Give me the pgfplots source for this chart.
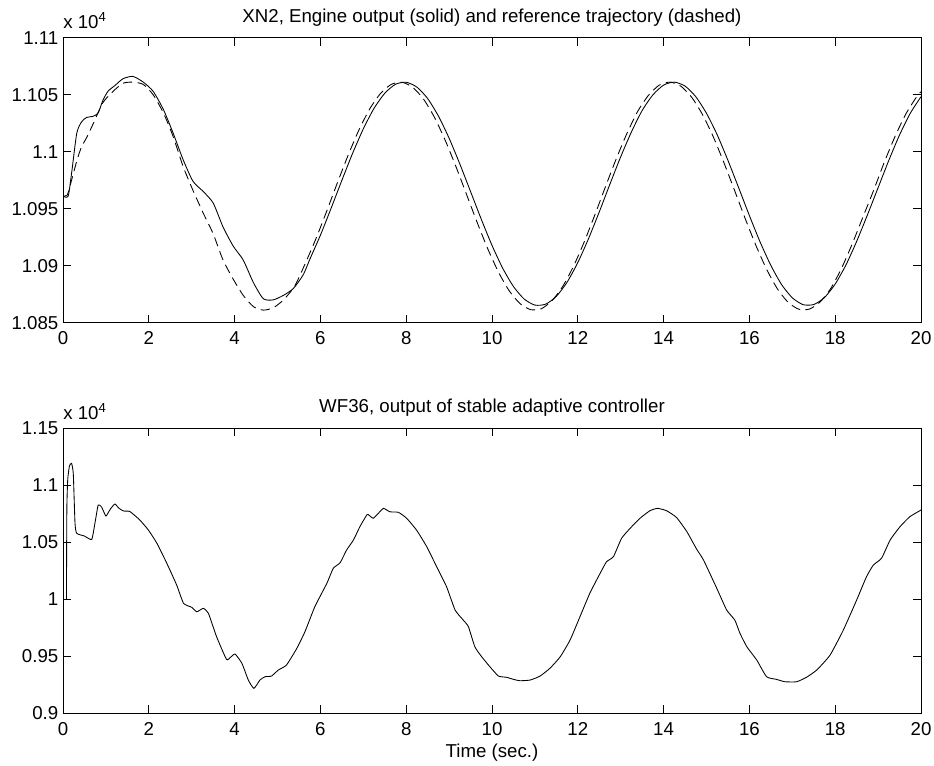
\documentclass[border=0pt]{standalone}
\usepackage{fontspec}
\setmainfont{Liberation Sans}
\usepackage{pgfplots}
\pgfplotsset{compat=1.18}
\pgfplotsset{
  mstyle/.style={
    scale only axis, width=643.5pt, height=213.75pt,
    anchor=south west,
    xmin=0, xmax=20, xtick={0,2,4,6,8,10,12,14,16,18,20},
    tick align=inside, xtick pos=both, ytick pos=both,
    major tick length=6pt,
    /pgf/number format/assume math mode=true,
    axis line style={line width=0.6pt},
    every tick/.style={line width=0.6pt, black},
    xticklabel style={yshift=-3.2pt},
    title style={at={(0.5,1)}, anchor=base, yshift=5.6pt},
    clip mode=individual,
  },
  sline/.style={black, line width=0.65pt, no markers},
}
\begin{document}
\begin{tikzpicture}[font=\fontsize{14pt}{16pt}\selectfont]
% ---------------- top axis ----------------
\begin{axis}[mstyle, at={(47.25pt,332.5pt)},
  ymin=1.085, ymax=1.11,
  ytick={1.085,1.09,1.095,1.1,1.105,1.11},
  yticklabels={1.085,1.09,1.095,1.1,1.105,1.11},
  title={XN2, Engine output (solid) and reference trajectory (dashed)}]
\addplot[sline, smooth, tension=0.4] coordinates {
(0,1.0961) (0.12,1.0961) (0.2,1.0981) (0.32,1.1016) (0.43,1.1026) (0.55,1.1030)
(0.7,1.1031) (0.82,1.1034) (0.93,1.1045) (1.05,1.1053) (1.21,1.1058) (1.4,1.1064)
(1.63,1.1066) (1.87,1.1061) (2.1,1.1053) (2.34,1.1037) (2.57,1.1016) (2.8,1.0993)
(3.03,1.0974) (3.27,1.0965) (3.5,1.0955) (3.73,1.0934) (3.97,1.0917) (4.2,1.0905)
(4.44,1.0885) (4.67,1.0871) (4.9,1.0870) (5.14,1.0874) (5.37,1.0880) (5.6,1.0892)
(5.75,1.09053) (6.0,1.09267) (6.25,1.09504) (6.5,1.09748) (6.75,1.09985)
(7.0,1.10200) (7.25,1.10380) (7.5,1.10512) (7.75,1.10591) (8.0,1.10609)
(8.25,1.10566) (8.5,1.10466) (8.75,1.10313) (9.0,1.10118) (9.25,1.09892)
(9.5,1.09650) (9.75,1.09407) (10.0,1.09178) (10.25,1.08977) (10.5,1.08817)
(10.75,1.08707) (11.0,1.08654) (11.25,1.08662) (11.5,1.08731) (11.75,1.08855)
(12.0,1.09027) (12.25,1.09237) (12.5,1.09471) (12.75,1.09716) (13.0,1.09955)
(13.25,1.10173) (13.5,1.10361) (13.75,1.10498) (14.0,1.10584) (14.25,1.10610)
(14.5,1.10575) (14.75,1.10482) (15.0,1.10336) (15.25,1.10147) (15.5,1.09923)
(15.75,1.09683) (16.0,1.09439) (16.25,1.09207) (16.5,1.09002) (16.75,1.08834)
(17.0,1.08718) (17.25,1.08658) (17.5,1.08659) (17.75,1.08720) (18.0,1.08839)
(18.25,1.09006) (18.5,1.09213) (18.75,1.09444) (19.0,1.09684) (19.25,1.09924)
(19.5,1.10147) (19.75,1.10337) (20.0,1.10482)
};
\addplot[sline, smooth, tension=0.4, dash pattern=on 7pt off 4pt] coordinates {
(0,1.0961) (0.1,1.0962) (0.2,1.0975) (0.33,1.0993) (0.43,1.1004) (0.56,1.1013)
(0.71,1.1025) (0.93,1.1043) (1.17,1.1053) (1.4,1.1060) (1.63,1.1061) (1.87,1.1059)
(2.1,1.1050) (2.34,1.1034) (2.57,1.1013) (2.8,1.0987) (3.03,1.0966) (3.27,1.0946)
(3.5,1.0928) (3.73,1.0905) (3.97,1.0888) (4.2,1.0874) (4.44,1.0864) (4.67,1.0861)
(4.9,1.0863) (5.14,1.0870) (5.4,1.0882) (5.65,1.09022) (5.9,1.09240)
(6.15,1.09481) (6.4,1.09731) (6.65,1.09972) (6.9,1.10192) (7.15,1.10375)
(7.4,1.10510) (7.65,1.10590) (7.9,1.10609) (8.15,1.10565) (8.4,1.10463)
(8.65,1.10307) (8.9,1.10108) (9.15,1.09878) (9.4,1.09631) (9.65,1.09383)
(9.9,1.09149) (10.15,1.08944) (10.4,1.08780) (10.65,1.08668) (10.9,1.08614)
(11.15,1.08622) (11.4,1.08693) (11.65,1.08819) (11.9,1.08995) (12.15,1.09209)
(12.4,1.09448) (12.65,1.09698) (12.9,1.09941) (13.15,1.10164) (13.4,1.10356)
(13.65,1.10496) (13.9,1.10584) (14.15,1.10610) (14.4,1.10575) (14.65,1.10479)
(14.9,1.10330) (15.15,1.10137) (15.4,1.09909) (15.65,1.09664) (15.9,1.09415)
(16.15,1.09179) (16.4,1.08969) (16.65,1.08798) (16.9,1.08679) (17.15,1.08618)
(17.4,1.08619) (17.65,1.08682) (17.9,1.08802) (18.15,1.08979) (18.4,1.09194)
(18.65,1.09430) (18.9,1.09665) (19.15,1.09913) (19.4,1.10138) (19.65,1.10333)
(19.9,1.10483) (20.0,1.10525)
};
\node[anchor=base west, inner sep=0pt, yshift=6.9pt] at (rel axis cs:0,1) {x 10\textsuperscript{4}};
\end{axis}
% ---------------- bottom axis ----------------
\begin{axis}[mstyle, at={(47.25pt,39.5pt)},
  ymin=0.9, ymax=1.15,
  ytick={0.9,0.95,1,1.05,1.1,1.15},
  yticklabels={0.9,0.95,1,1.05,1.1,1.15},
  title={WF36, output of stable adaptive controller},
  xlabel={Time (sec.)},
  xlabel style={at={(axis description cs:0.5,0)}, anchor=base, yshift=-33.5pt}]
\addplot[sline, smooth, tension=0.3] coordinates {
(0.08,1.0000) (0.09,1.0800) (0.11,1.1050) (0.15,1.1170) (0.2,1.1193) (0.24,1.1100)
(0.28,1.0667) (0.32,1.0579) (0.5,1.0555) (0.67,1.0526) (0.75,1.0680) (0.82,1.0827)
(0.9,1.0810) (1.0,1.0731) (1.1,1.0790) (1.21,1.0836) (1.3,1.0800) (1.41,1.0775)
(1.56,1.0770) (1.79,1.0696) (1.99,1.0608) (2.19,1.0491) (2.42,1.0316) (2.65,1.0125)
(2.81,0.9965) (3.0,0.9930) (3.12,0.9891) (3.27,0.9921) (3.39,0.9877) (3.58,0.9672)
(3.81,0.9474) (3.9,0.9490) (4.01,0.9520) (4.17,0.9439) (4.32,0.9292) (4.45,0.9219)
(4.59,0.9292) (4.71,0.9321) (4.86,0.9327) (5.02,0.9380) (5.21,0.9424) (5.45,0.9570)
(5.64,0.9716) (5.87,0.9935) (6.15,1.0140) (6.30,1.0272) (6.46,1.0321) (6.61,1.0432)
(6.77,1.0520) (6.92,1.0637) (7.08,1.0740) (7.11,1.0745) (7.23,1.0711) (7.35,1.0754)
(7.47,1.0798) (7.62,1.0768) (7.82,1.0763) (8.01,1.0711) (8.24,1.0608) (8.48,1.0461)
(8.71,1.0286) (8.94,1.0111) (9.14,0.9906) (9.33,0.9818) (9.45,0.9760) (9.6,0.9584)
(9.76,0.9496) (9.95,0.9409) (10.15,0.9327) (10.34,0.9316) (10.5,0.9298) (10.65,0.9286)
(10.89,0.9292) (11.12,0.9327) (11.35,0.9395) (11.59,0.9496) (11.82,0.9643) (12.05,0.9847)
(12.28,1.0053) (12.52,1.0228) (12.67,1.0330) (12.83,1.0374) (13.02,1.0535) (13.22,1.0623)
(13.45,1.0711) (13.68,1.0777) (13.86,1.0798) (14.07,1.0777) (14.3,1.0718) (14.54,1.0595)
(14.77,1.0440) (14.93,1.0345) (15.24,1.0096) (15.47,0.9906) (15.66,0.9818) (15.78,0.9702)
(15.94,0.9584) (16.17,0.9468) (16.4,0.9321) (16.63,0.9298) (16.83,0.9277) (17.1,0.9277)
(17.33,0.9316) (17.57,0.9380) (17.88,0.9511) (18.19,0.9731) (18.5,0.9994) (18.73,1.0199)
(18.89,1.0301) (19.08,1.0360) (19.28,1.0520) (19.51,1.0637) (19.74,1.0725) (20,1.0783)
};
\node[anchor=base west, inner sep=0pt, yshift=6.9pt] at (rel axis cs:0,1) {x 10\textsuperscript{4}};
\end{axis}
\pgfresetboundingbox
\useasboundingbox (0,0) rectangle (700.5pt,574.5pt);
\end{tikzpicture}
\end{document}
